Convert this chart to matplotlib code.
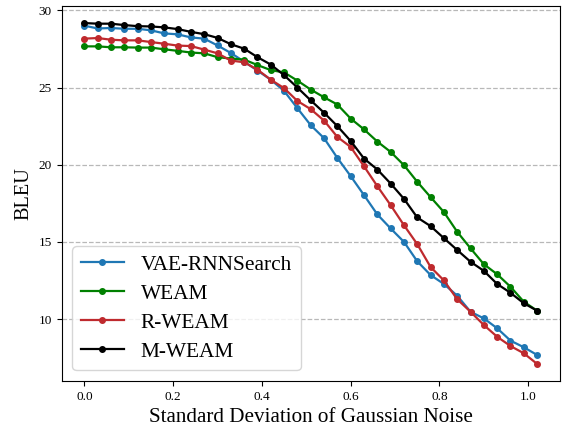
import matplotlib
matplotlib.use('Agg')
import matplotlib.pyplot as plt

plt.rcParams['font.family'] = ['Liberation Serif', 'DejaVu Serif']
plt.rcParams['mathtext.fontset'] = 'stix'

# noise std (x) and BLEU for each model
noise = [0.00, 0.03, 0.06, 0.09, 0.12, 0.15, 0.18, 0.21, 0.24, 0.27,
         0.30, 0.33, 0.36, 0.39, 0.42, 0.45, 0.48, 0.51, 0.54, 0.57,
         0.60, 0.63, 0.66, 0.69, 0.72, 0.75, 0.78, 0.81, 0.84, 0.87,
         0.90, 0.93, 0.96, 0.99, 1.02]

vae_rnnsearch = [29.01, 28.83, 28.86, 28.81, 28.81, 28.71, 28.51, 28.45, 28.25, 28.17,
                 27.73, 27.24, 26.68, 26.10, 25.51, 24.78, 23.66, 22.56, 21.72, 20.44,
                 19.26, 18.03, 16.78, 15.87, 15.00, 13.74, 12.85, 12.27, 11.51, 10.47,
                 10.04, 9.40, 8.60, 8.17, 7.67]

weam = [27.67, 27.67, 27.61, 27.61, 27.59, 27.59, 27.48, 27.38, 27.27, 27.22,
        26.97, 26.88, 26.81, 26.46, 26.13, 25.98, 25.45, 24.87, 24.37, 23.90,
        22.99, 22.29, 21.50, 20.83, 19.97, 18.89, 17.90, 16.93, 15.65, 14.58,
        13.55, 12.90, 12.09, 11.12, 10.54]

r_weam = [28.17, 28.21, 28.10, 28.06, 28.06, 27.95, 27.84, 27.72, 27.69, 27.46,
          27.22, 26.75, 26.64, 26.16, 25.51, 24.96, 24.13, 23.60, 22.86, 21.80,
          21.15, 19.90, 18.61, 17.38, 16.08, 14.85, 13.37, 12.50, 11.28, 10.47,
          9.61, 8.85, 8.25, 7.78, 7.09]

m_weam = [29.18, 29.14, 29.14, 29.05, 28.98, 28.96, 28.90, 28.79, 28.61, 28.46,
          28.22, 27.81, 27.52, 26.97, 26.49, 25.80, 25.00, 24.17, 23.37, 22.50,
          21.54, 20.40, 19.69, 18.78, 17.79, 16.58, 16.02, 15.24, 14.47, 13.71,
          13.12, 12.27, 11.70, 11.02, 10.54]

fig = plt.figure(figsize=(5.66, 4.30), dpi=100)
ax = fig.add_axes([0.109, 0.114, 0.880, 0.872])

ax.plot(noise, vae_rnnsearch, color='#1f77b4', marker='o', markersize=4, lw=1.6, label='VAE-RNNSearch')
ax.plot(noise, weam, color='#008000', marker='o', markersize=4, lw=1.6, label='WEAM')
ax.plot(noise, r_weam, color='#bf2a2e', marker='o', markersize=4, lw=1.6, label='R-WEAM')
ax.plot(noise, m_weam, color='black', marker='o', markersize=4, lw=1.6, label='M-WEAM')

ax.set_xticks([0.0, 0.2, 0.4, 0.6, 0.8, 1.0])
ax.set_yticks([10, 15, 20, 25, 30])
ax.tick_params(labelsize=9.5)
ax.yaxis.grid(True, linestyle='--', color='#b8b8b8', lw=0.9)
ax.set_axisbelow(True)

ax.set_xlabel('Standard Deviation of Gaussian Noise', fontsize=15.2)
ax.set_ylabel('BLEU', fontsize=14.6)

ax.legend(loc='lower left', fontsize=15.4, labelspacing=0.42, borderaxespad=0.5)

fig.savefig('out.png', dpi=100)
